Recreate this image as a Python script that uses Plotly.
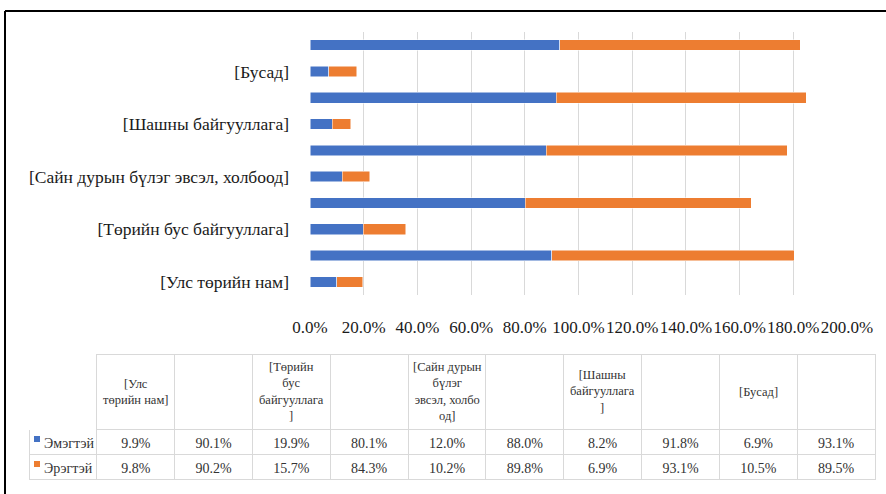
import plotly.graph_objects as go

# Categories bottom-to-top (Excel draws first category at the bottom)
categories = [
    "[Улс төрийн нам]", "",
    "[Төрийн бус байгууллага]", "",
    "[Сайн дурын бүлэг эвсэл, холбоод]", "",
    "[Шашны байгууллага]", "",
    "[Бусад]", "",
]
# Wrapped versions used in the data table header
table_headers = [
    "[Улс<br>төрийн нам]", "",
    "[Төрийн<br>бус<br>байгууллага<br>]", "",
    "[Сайн дурын<br>бүлэг<br>эвсэл, холбо<br>од]", "",
    "[Шашны<br>байгууллага<br>]", "",
    "[Бусад]", "",
]
female = [9.9, 90.1, 19.9, 80.1, 12.0, 88.0, 8.2, 91.8, 6.9, 93.1]
male = [9.8, 90.2, 15.7, 84.3, 10.2, 89.8, 6.9, 93.1, 10.5, 89.5]
series_names = ["Эмэгтэй", "Эрэгтэй"]
x_ticks = [0, 20, 40, 60, 80, 100, 120, 140, 160, 180, 200]

BLUE = "#4472C4"
ORANGE = "#ED7D31"
GRID = "#D9D9D9"
FONT = "Liberation Serif, Times New Roman, serif"

W, H = 886, 494
TABLE_X = (29, 875)      # table left/right edge, px
HEADER_Y = (354, 429)    # header top/bottom, px


def fx(px):
    return px / W


def fy(py):
    return (H - py) / H


fig = go.Figure()
positions = list(range(len(categories)))
colors = [BLUE, ORANGE]
for name, vals, color in zip(series_names, [female, male], colors):
    fig.add_trace(go.Bar(
        y=positions, x=vals, name=name, orientation="h",
        marker=dict(color=color, line=dict(color="white", width=0.5)),
        width=0.4, showlegend=False,
    ))

# Data table under the chart; header text is set as annotations so each
# line is centred like in Excel
col_widths = [68] + [78] * len(categories)
cell_vals = [["\u00a0\u00a0" + n for n in series_names]] + [
    [f"{f:.1f}%", f"{m:.1f}%"] for f, m in zip(female, male)
]

fig.add_trace(go.Table(
    domain=dict(x=[fx(TABLE_X[0]), fx(TABLE_X[1])], y=[fy(480), fy(HEADER_Y[0])]),
    columnwidth=col_widths,
    header=dict(
        values=[""] * len(col_widths),
        height=HEADER_Y[1] - HEADER_Y[0],
        fill=dict(color="white"),
        line=dict(color=["white"] + [GRID] * len(categories), width=1),
    ),
    cells=dict(
        values=cell_vals,
        height=25,
        align=["left"] + ["center"] * len(categories),
        fill=dict(color="white"),
        line=dict(color=GRID, width=1),
        font=dict(family=FONT, size=14, color="#333333"),
    ),
))

scale = (TABLE_X[1] - TABLE_X[0]) / sum(col_widths)
left = TABLE_X[0] + col_widths[0] * scale
header_notes = []
for i, label in enumerate(table_headers):
    if not label:
        continue
    xc = left + (sum(col_widths[1:i + 1]) + col_widths[i + 1] / 2) * scale
    header_notes.append(dict(
        text=label, xref="paper", yref="paper",
        x=fx(xc), y=fy(sum(HEADER_Y) / 2),
        xanchor="center", yanchor="middle", align="center",
        showarrow=False,
        font=dict(family=FONT, size=12.5, color="#333333"),
    ))

# legend keys in the table's first column
key_shapes = []
for i, color in enumerate(colors):
    yc = 439 + 25 * i
    key_shapes.append(dict(
        type="rect", xref="paper", yref="paper",
        x0=fx(34), x1=fx(40), y0=fy(yc + 3), y1=fy(yc - 3),
        line=dict(width=0), fillcolor=color, layer="above",
    ))

# chart frame: only the top and left edges fall inside the picture
frame = [
    dict(type="line", xref="paper", yref="paper",
         x0=fx(5), x1=1, y0=fy(11), y1=fy(11),
         line=dict(color="black", width=2), layer="above"),
    dict(type="line", xref="paper", yref="paper",
         x0=fx(5), x1=fx(5), y0=0, y1=fy(11),
         line=dict(color="black", width=2), layer="above"),
]

fig.update_layout(
    width=W, height=H,
    barmode="stack",
    margin=dict(l=0, r=0, t=0, b=0, autoexpand=False),
    paper_bgcolor="white",
    plot_bgcolor="white",
    font=dict(family=FONT, size=17, color="#1a1a1a"),
    xaxis=dict(
        domain=[fx(310), fx(847)],
        range=[0, 200],
        tickvals=x_ticks,
        ticktext=[f"{v:.1f}%" for v in x_ticks],
        tickangle=0,
        automargin=False,
        showgrid=True, gridcolor=GRID, gridwidth=1,
        zeroline=False, showline=False,
        ticklabelstandoff=20,
        tickfont=dict(family=FONT, size=17, color="#1a1a1a"),
    ),
    yaxis=dict(
        domain=[fy(295), fy(32)],
        range=[-0.5, len(categories) - 0.5],
        tickvals=positions,
        ticktext=categories,
        automargin=False,
        showgrid=False, zeroline=False, showline=False,
        ticks="",
        ticklabelstandoff=20,
        tickfont=dict(family=FONT, size=17.5, color="#1a1a1a"),
    ),
    shapes=frame + key_shapes,
    annotations=header_notes,
)

# drop the browser's default body margin so the figure fills the window exactly
fig.write_html(
    "out.html",
    config={"displayModeBar": False},
    post_script="document.body.style.margin='0';"
                "document.body.style.overflow='hidden';"
                "document.documentElement.style.overflow='hidden';",
)
